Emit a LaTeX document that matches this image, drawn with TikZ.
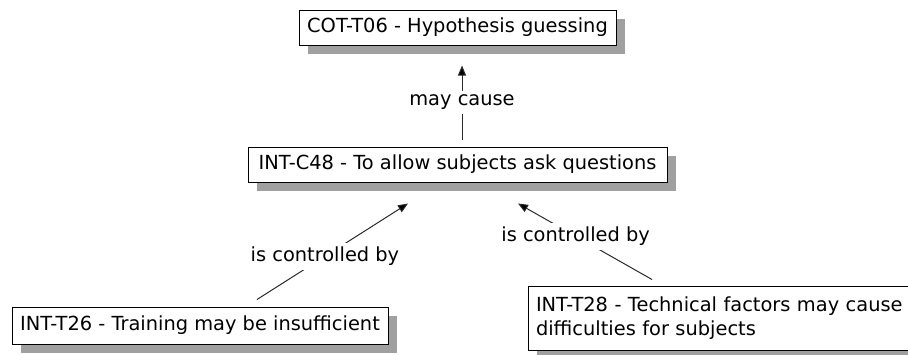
\documentclass[tikz,border=0pt]{standalone}
\usepackage{fontspec}
\setmainfont{DejaVu Sans}
\usetikzlibrary{arrows.meta,shadows}
\definecolor{shade}{HTML}{A0A0A0}
\definecolor{linkgray}{HTML}{2A2A2A}
\tikzset{
  concept/.style={draw=black, line width=1pt, fill=white, inner sep=0pt,
    font=\fontsize{19.4}{24}\selectfont,
    general shadow={fill=shade, shadow xshift=9pt, shadow yshift=-9pt}},
  link/.style={draw=linkgray, line width=1pt, -{Triangle[length=10pt,width=8pt,fill=black]}},
  linklabel/.style={fill=white, inner xsep=2pt, inner ysep=4pt, font=\fontsize{19.4}{24}\selectfont}
}
\begin{document}
\begin{tikzpicture}[x=1pt, y=-1pt]
  \useasboundingbox (0,0) rectangle (908,354);
  % concepts
  \node[concept, minimum width=317pt, minimum height=35pt] (cot) at (457.5,27.5)
    {COT-T06 - Hypothesis guessing};
  \node[concept, minimum width=419pt, minimum height=35pt] (c48) at (457.5,164.5)
    {INT-C48 - To allow subjects ask questions};
  \node[concept, minimum width=376pt, minimum height=37pt] (t26) at (200,325.5)
    {INT-T26 - Training may be insufficient};
  \node[concept, minimum width=382pt, minimum height=64pt, align=left,
        text width=370pt, inner xsep=8pt] (t28) at (721,318)
    {INT-T28 - Technical factors may cause\\difficulties for subjects};
  % relations
  \draw[link] ([shift={(4.5,-7)}]c48.north) -- node[linklabel, pos=0.5] {may cause}
    ([shift={(4.5,20)}]cot.south);
  \draw[link] ([shift={(57,-7)}]t26.north) -- node[linklabel, pos=0.45] {is controlled by}
    ([shift={(-49.5,21)}]c48.south);
  \draw[link] ([shift={(-69,-6)}]t28.north) -- node[linklabel, pos=0.57] {is controlled by}
    ([shift={(60.5,21)}]c48.south);
\end{tikzpicture}
\end{document}
